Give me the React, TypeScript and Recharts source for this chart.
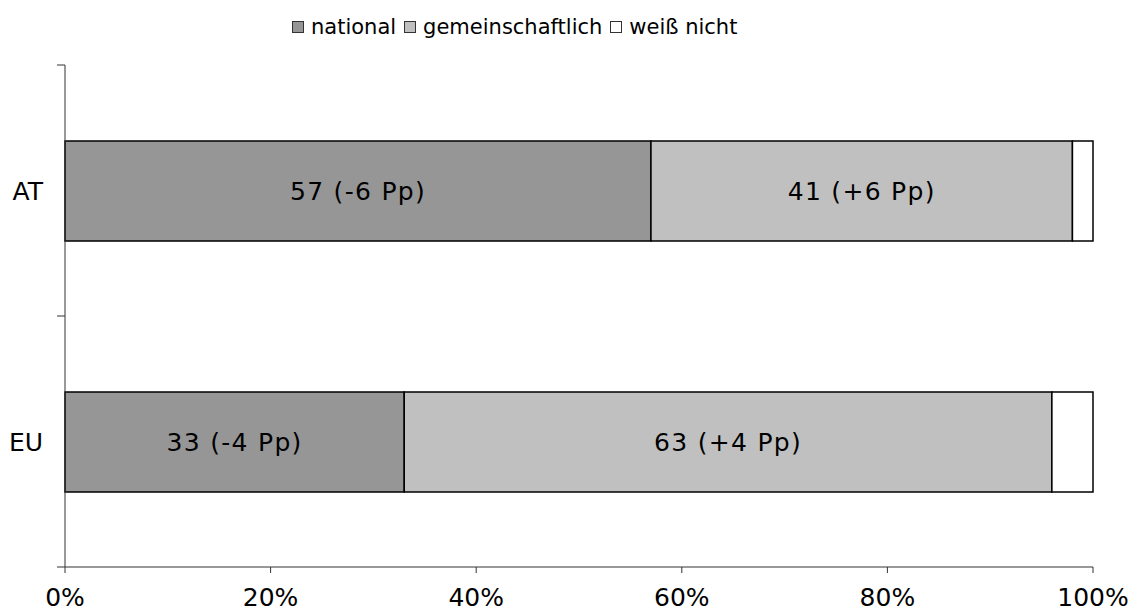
import { Bar, BarChart, LabelList, Legend, XAxis, YAxis } from "recharts"

const categories = ["AT", "EU"]
const seriesNames = ["national", "gemeinschaftlich", "weiß nicht"]
const national = [57, 33]
const gemeinschaftlich = [41, 63]
const weissNicht = [2, 4]
const nationalChange = ["-6", "-4"]
const gemeinschaftlichChange = ["+6", "+4"]
const xTicks = [0, 20, 40, 60, 80, 100]

const FONT = "'DejaVu Sans', Verdana, sans-serif"
const COLORS = ["#969696", "#c0c0c0", "#ffffff"]
const AXIS = "#333"

const WIDTH = 1142
const HEIGHT = 613
const MARGIN = { top: 65, right: 49, bottom: 0, left: 0 }
const Y_WIDTH = 65
const X_HEIGHT = 46
const PLOT_H = HEIGHT - MARGIN.top - MARGIN.bottom - X_HEIGHT
const AXIS_X = MARGIN.left + Y_WIDTH

const data = categories.map((name, i) => ({
  name,
  national: national[i],
  gemeinschaftlich: gemeinschaftlich[i],
  weiss: weissNicht[i],
}))

// category labels in the band centre, tick marks on the band edges
function CategoryTick(props: any) {
  const { y, payload, index } = props
  const half = PLOT_H / categories.length / 2
  return (
    <g>
      <line x1={AXIS_X - 8} x2={AXIS_X} y1={y - half} y2={y - half} stroke={AXIS} />
      {index === categories.length - 1 && (
        <line x1={AXIS_X - 8} x2={AXIS_X} y1={y + half} y2={y + half} stroke={AXIS} />
      )}
      <text x={AXIS_X - 22} y={y} dy="0.36em" textAnchor="end" fontSize={25} fontFamily={FONT} fill="#000">
        {payload.value}
      </text>
    </g>
  )
}

function makeLabel(changes: string[]) {
  return (props: any) => {
    const { x, y, width, height, value, index } = props
    return (
      <text
        x={x + width / 2}
        y={y + height / 2}
        dy="0.36em"
        textAnchor="middle"
        fontSize={25}
        letterSpacing={1.3}
        fontFamily={FONT}
        fill="#000"
      >
        {`${value} (${changes[index]} Pp)`}
      </text>
    )
  }
}

function LegendContent() {
  return (
    <div style={{ display: "flex", alignItems: "center", fontFamily: FONT, fontSize: 21, color: "#000", lineHeight: "26px" }}>
      {seriesNames.map((name, i) => (
        <div key={name} style={{ display: "flex", alignItems: "center", marginRight: 8 }}>
          <span
            style={{
              display: "inline-block",
              width: 10,
              height: 10,
              background: COLORS[i],
              border: `1.5px solid ${AXIS}`,
              marginRight: 7,
            }}
          />
          <span>{name}</span>
        </div>
      ))}
    </div>
  )
}

export default function App() {
  return (
    <div style={{ position: "absolute", left: 0, top: 0, background: "#fff" }}>
      <BarChart width={WIDTH} height={HEIGHT} data={data} layout="vertical" margin={MARGIN}>
        <Legend
          verticalAlign="middle"
          align="center"
          layout="horizontal"
          content={<LegendContent />}
          wrapperStyle={{ top: 14, left: 292, width: "auto", height: "auto" }}
        />
        <XAxis
          type="number"
          domain={[0, 100]}
          ticks={xTicks}
          interval={0}
          tickFormatter={(v) => `${v}%`}
          stroke={AXIS}
          tickSize={6}
          tickMargin={15}
          height={X_HEIGHT}
          tick={{ fill: "#000", fontSize: 25, fontFamily: FONT }}
        />
        <YAxis
          type="category"
          dataKey="name"
          width={Y_WIDTH}
          stroke={AXIS}
          tickLine={false}
          interval={0}
          tick={<CategoryTick />}
        />
        <Bar dataKey="national" stackId="a" barSize={100} fill={COLORS[0]} stroke="#000" strokeWidth={1.5} isAnimationActive={false}>
          <LabelList dataKey="national" content={makeLabel(nationalChange)} />
        </Bar>
        <Bar dataKey="gemeinschaftlich" stackId="a" barSize={100} fill={COLORS[1]} stroke="#000" strokeWidth={1.5} isAnimationActive={false}>
          <LabelList dataKey="gemeinschaftlich" content={makeLabel(gemeinschaftlichChange)} />
        </Bar>
        <Bar dataKey="weiss" stackId="a" barSize={100} fill={COLORS[2]} stroke="#000" strokeWidth={1.5} isAnimationActive={false} />
      </BarChart>
    </div>
  )
}
